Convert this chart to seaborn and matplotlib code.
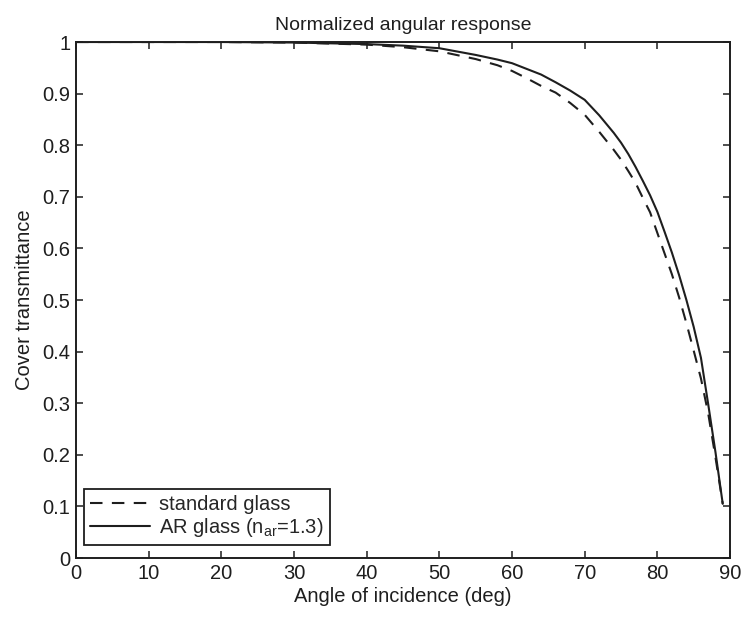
import matplotlib

matplotlib.use("Agg")
import matplotlib.pyplot as plt
import pandas as pd
import seaborn as sns

# values
angle_deg = [0, 10, 20, 30, 40, 45, 50, 55, 58, 60, 62, 64, 66, 68, 70, 72, 74, 75, 76, 77, 78, 79,
             80, 81, 82, 83, 84, 85, 86, 87, 88, 89]
standard_glass = [1.0, 1.0, 1.0, 0.999, 0.995, 0.990, 0.982, 0.967, 0.955, 0.944, 0.930, 0.915,
                  0.902, 0.882, 0.859, 0.826, 0.791, 0.772, 0.750, 0.727, 0.698, 0.670, 0.630,
                  0.590, 0.550, 0.505, 0.455, 0.402, 0.348, 0.280, 0.195, 0.105]
ar_glass = [1.0, 1.0, 1.0, 0.999, 0.996, 0.993, 0.988, 0.975, 0.966, 0.959, 0.948, 0.937, 0.922,
            0.906, 0.888, 0.858, 0.824, 0.805, 0.783, 0.758, 0.731, 0.703, 0.671, 0.632, 0.592,
            0.548, 0.500, 0.448, 0.388, 0.298, 0.205, 0.105]

series_labels = ["standard glass", r"AR glass (n$_\mathregular{ar}$=1.3)"]
x_ticks = list(range(0, 91, 10))
y_ticks = [0, 0.1, 0.2, 0.3, 0.4, 0.5, 0.6, 0.7, 0.8, 0.9, 1]
y_tick_labels = ["0", "0.1", "0.2", "0.3", "0.4", "0.5", "0.6", "0.7", "0.8", "0.9", "1"]

sns.set_style("ticks")
plt.rcParams["font.family"] = ["Liberation Sans", "DejaVu Sans"]
plt.rcParams["xtick.direction"] = "in"
plt.rcParams["ytick.direction"] = "in"

df = pd.DataFrame({
    "angle": angle_deg * 2,
    "value": standard_glass + ar_glass,
    "series": [series_labels[0]] * len(angle_deg) + [series_labels[1]] * len(angle_deg),
})

ink = "#1e1e1e"
fs = 14.5

fig = plt.figure(figsize=(7.44, 6.19), dpi=100)
ax = fig.add_axes([0.1022, 0.0985, 0.879, 0.8336])

sns.lineplot(data=df[df["series"] == series_labels[0]], x="angle", y="value", color=ink,
             linewidth=1.5, ax=ax, label=series_labels[0])
sns.lineplot(data=df[df["series"] == series_labels[1]], x="angle", y="value", color=ink,
             linewidth=1.5, ax=ax, label=series_labels[1])
ax.lines[0].set_dashes([6, 4.5])

ax.set_xlim(0, 90)
ax.set_ylim(0, 1)
ax.set_xticks(x_ticks)
ax.set_xticklabels([str(t) for t in x_ticks])
ax.set_yticks(y_ticks)
ax.set_yticklabels(y_tick_labels)
ax.tick_params(axis="both", labelsize=fs, length=5, width=1.1, top=True, right=True,
               colors=ink, labelcolor=ink, pad=4)
for spine in ax.spines.values():
    spine.set_visible(True)
    spine.set_linewidth(1.4)
    spine.set_color(ink)

ax.set_title("Normalized angular response", fontsize=14, color=ink, pad=9)
ax.set_xlabel("Angle of incidence (deg)", fontsize=fs, color=ink, labelpad=3)
ax.set_ylabel("Cover transmittance", fontsize=fs, color=ink, labelpad=6)

leg = ax.legend(loc="lower left", bbox_to_anchor=(0.012, 0.025), borderaxespad=0, fontsize=fs,
                frameon=True, fancybox=False, handlelength=3.0, borderpad=0.3, labelspacing=0.1,
                handletextpad=0.45)
leg.get_frame().set_edgecolor(ink)
leg.get_frame().set_linewidth(1.3)
leg.get_frame().set_alpha(1)

fig.savefig("out.png", dpi=100)
plt.close(fig)
